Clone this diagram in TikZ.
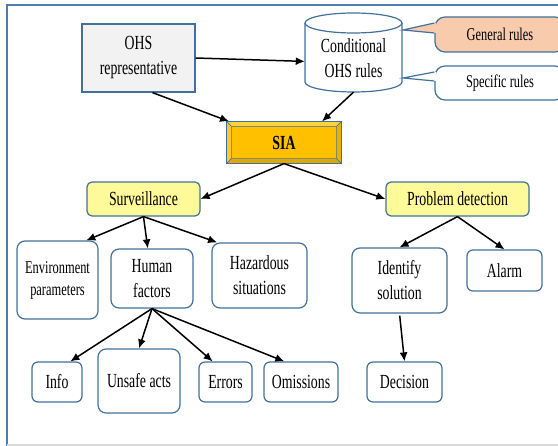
\documentclass[tikz,border=0pt]{standalone}
\usepackage{fontspec}
\setmainfont[FakeStretch=0.69]{Liberation Serif}
\usetikzlibrary{arrows.meta}
\definecolor{bordblue}{HTML}{41719C}
\definecolor{frameblue}{HTML}{4F7DB0}
\definecolor{siagold}{HTML}{FFC000}
\definecolor{survyellow}{HTML}{FFFA99}
\definecolor{genpeach}{HTML}{F8CBAD}
\definecolor{repgray}{HTML}{F2F2F2}
\newcommand{\bigfont}{\fontsize{20}{25}\selectfont}
\newcommand{\smallfont}{\fontsize{18}{22}\selectfont}
\tikzset{
  box/.style={draw=bordblue,line width=1.2pt,rounded corners=8pt,fill=white,align=center,inner sep=0pt,font=\bigfont},
  headbox/.style={box,rounded corners=5pt,fill=survyellow},
  callbox/.style={box,rounded corners=10pt,font=\smallfont},
  arr/.style={-{Latex[length=9pt,width=8pt]},line width=1.5pt},
}
\begin{document}
\begin{tikzpicture}[x=1pt,y=-1pt]
  \useasboundingbox (0,0) rectangle (558,446);
  \draw[frameblue,line width=1.5pt] (7,446) -- (7,5) -- (558,5);
  \draw[black!15,line width=1.5pt] (7,445) -- (558,445);

  \node[box,rounded corners=0pt,fill=repgray,minimum width=113pt,minimum height=68pt] (rep) at (138.5,58) {OHS\\representative};

  \draw[bordblue,line width=1.2pt,fill=white] (305,23) -- (305,82) arc[start angle=180,end angle=360,x radius=48.5pt,y radius=10pt] -- (402,23) arc[start angle=0,end angle=180,x radius=48.5pt,y radius=10pt] -- cycle;
  \draw[bordblue,line width=1.2pt] (305,23) arc[start angle=180,end angle=360,x radius=48.5pt,y radius=10pt];
  \node[align=center,font=\bigfont,minimum width=97pt,minimum height=68pt,inner sep=0pt] (cyl) at (353.5,58) {Conditional\\OHS rules};

  \node[callbox,fill=genpeach,minimum width=130pt,minimum height=35pt] (gen) at (500,34.5) {General rules};
  \coordinate (gtip) at (403,30);
  \fill[genpeach] (gtip) -- ([shift={(1.5pt,11.5pt)}]gen.west) -- ([shift={(1.5pt,1.5pt)}]gen.west) -- cycle;
  \draw[bordblue,line width=1.2pt] ([yshift=11.5pt]gen.west) -- (gtip) -- ([yshift=1.5pt]gen.west);

  \node[callbox,minimum width=130pt,minimum height=34pt] (spec) at (500,83) {Specific rules};
  \coordinate (stip) at (403,78);
  \fill[white] (stip) -- ([shift={(1.5pt,11pt)}]spec.west) -- ([shift={(1.5pt,2pt)}]spec.west) -- cycle;
  \draw[bordblue,line width=1.2pt] ([yshift=11pt]spec.west) -- (stip) -- ([yshift=2pt]spec.west);

  \node[box,rounded corners=0pt,fill=siagold,minimum width=114pt,minimum height=41pt,font=\bigfont\bfseries] (sia) at (284,142.5) {SIA};
  \filldraw[bordblue,line width=0.5pt,fill=siagold!75!white] (sia.north west) -- (sia.north east) -- ++(-5pt,-5pt) -- ([shift={(5pt,-5pt)}]sia.north west) -- cycle;
  \filldraw[bordblue,line width=0.5pt,fill=siagold!85!white] (sia.north west) -- (sia.south west) -- ++(5pt,5pt) -- ([shift={(5pt,-5pt)}]sia.north west) -- cycle;
  \filldraw[bordblue,line width=0.5pt,fill=siagold!88!black] (sia.south west) -- (sia.south east) -- ++(-5pt,5pt) -- ([shift={(5pt,5pt)}]sia.south west) -- cycle;
  \filldraw[bordblue,line width=0.5pt,fill=siagold!92!black] (sia.north east) -- (sia.south east) -- ++(-5pt,5pt) -- ([shift={(-5pt,-5pt)}]sia.north east) -- cycle;
  \draw[bordblue,line width=1.2pt] (sia.south west) rectangle (sia.north east);

  \node[headbox,minimum width=113pt,minimum height=34pt] (surv) at (143.5,199) {Surveillance};
  \node[headbox,minimum width=143pt,minimum height=34pt] (pd) at (457.5,199) {Problem detection};

  \node[box,font=\smallfont,minimum width=81pt,minimum height=78pt] (env) at (57.5,280) {Environment\\parameters};
  \node[box,minimum width=82pt,minimum height=59pt] (hum) at (152,278.5) {Human\\factors};
  \node[box,minimum width=95pt,minimum height=65pt] (haz) at (259.5,275.5) {Hazardous\\situations};
  \node[box,minimum width=95pt,minimum height=65pt] (ident) at (399.5,280.5) {Identify\\solution};
  \node[box,rounded corners=6pt,minimum width=75pt,minimum height=41pt] (alarm) at (504.5,270.5) {Alarm};

  \node[box,rounded corners=6pt,minimum width=50pt,minimum height=40pt] (info) at (57,382) {Info};
  \node[box,minimum width=82pt,minimum height=64pt] (unsafe) at (139,381) {Unsafe acts};
  \node[box,rounded corners=6pt,minimum width=53pt,minimum height=40pt] (errors) at (225.5,382) {Errors};
  \node[box,rounded corners=6pt,minimum width=74pt,minimum height=40pt] (omis) at (301,382) {Omissions};
  \node[box,rounded corners=6pt,minimum width=75pt,minimum height=40pt] (dec) at (404.5,382) {Decision};

  \draw[arr] (rep.east) -- (cyl.184);
  \draw[arr] (rep.-68) -- (sia.159);
  \draw[arr] (cyl.south) -- (sia.29);
  \draw[arr] (sia.south) -- (surv.east);
  \draw[arr] (sia.south) -- (pd.west);
  \draw[arr] (surv.south) -- (env.54);
  \draw[arr] (surv.south) -- (hum.98);
  \draw[arr] (surv.south) -- (haz.142);
  \draw[arr] (pd.south) -- (ident.north);
  \draw[arr] (pd.south) -- (alarm.north);
  \draw[arr] (hum.south) -- (info.57);
  \draw[arr] (hum.south) -- (unsafe.north);
  \draw[arr] (hum.south) -- (errors.122);
  \draw[arr] (hum.south) -- (omis.129);
  \draw[arr,shorten <=2pt] (ident.south) -- (dec.north);
\end{tikzpicture}
\end{document}
